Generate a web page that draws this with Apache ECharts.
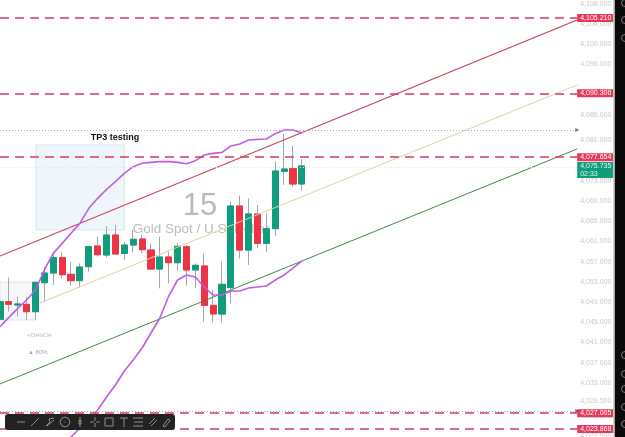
<!DOCTYPE html>
<html>
<head>
<meta charset="utf-8">
<style>html,body{margin:0;padding:0;background:#fff}#chart{width:625px;height:437px}</style>
<script src="https://cdn.jsdelivr.net/npm/echarts@6/dist/echarts.min.js"></script>
</head>
<body>
<div id="chart"></div>
<script>
// 15-minute XAU/USD candles: [open, close, low, high]
const candles = [
  [4045.57,4049.07,4044.12,4051.05],[4049.07,4048.54,4047.09,4053.89],[4048.41,4048.61,4046.10,4050.06],
  [4048.54,4047.09,4045.44,4050.06],[4047.09,4052.90,4045.44,4052.90],[4052.83,4054.74,4049.07,4056.00],
  [4054.74,4057.78,4052.37,4058.96],[4057.78,4054.41,4053.69,4058.96],[4054.48,4053.23,4052.24,4056.99],
  [4053.23,4055.93,4051.84,4056.66],[4056.00,4059.95,4055.01,4059.95],[4060.09,4058.37,4057.98,4061.93],
  [4058.31,4062.26,4057.78,4064.04],[4062.26,4058.50,4058.50,4064.24],[4058.63,4060.28,4057.32,4060.94],
  [4060.28,4061.41,4058.77,4063.25],[4061.47,4059.36,4058.63,4062.26],[4059.29,4055.53,4055.34,4060.61],
  [4055.53,4057.91,4051.71,4061.93],[4057.91,4056.79,4052.70,4058.96],[4056.79,4060.02,4055.20,4060.61],
  [4059.95,4055.34,4052.24,4060.28],[4055.34,4056.26,4051.71,4056.66],[4056.13,4048.34,4045.11,4058.63],
  [4048.34,4046.63,4044.98,4051.38],[4046.63,4052.50,4044.98,4056.99],[4051.84,4068.00,4048.74,4068.86],
  [4068.00,4059.29,4057.65,4070.05],[4059.29,4066.42,4056.33,4069.52],[4066.42,4060.61,4059.62,4068.20],
  [4060.61,4063.52,4058.96,4066.55],[4063.52,4074.93,4062.13,4076.78],[4074.86,4075.32,4072.16,4082.25],
  [4075.39,4072.36,4071.83,4079.88],[4072.36,4075.92,4071.04,4077.30]
];
const slotCount = 65;
const categories = Array.from({length: slotCount + 1}, (_, i) => String(i));

// Bollinger-style envelope, one value per candle
const upperBand = [4044.12,4045.97,4047.75,4049.40,4051.38,4055.34,4058.63,4060.61,4062.60,4064.57,4067.54,4069.52,
  4071.30,4072.82,4074.47,4075.79,4076.45,4076.64,4076.78,4076.78,4076.64,4076.38,4076.97,4078.09,4078.42,4078.62,
  4079.88,4080.27,4081.06,4081.19,4081.26,4082.32,4083.04,4083.04,4082.45];
const lowerBand = [null,null,null,null,null,null,null,4019.72,4022.29,4024.07,4025.65,4027.63,4030.20,4032.58,4035.35,
  4037.53,4039.90,4042.87,4045.84,4050.19,4053.36,4054.35,4053.95,4051.97,4050.39,4050.39,4051.18,4051.18,4051.78,
  4051.97,4052.17,4053.36,4054.35,4055.73,4057.12];

// Channel lines: [slot, price] end points
const channelUpper = [[0,4058.11],[65,4104.81]];
const channelMiddle = [[4.5,4048.81],[65,4091.95]];
const channelLower = [[0,4032.78],[65,4079.30]];

// Price levels and right-hand tags
const targetLevels = [4105.210,4090.306,4077.654,4027.005,4023.868];
const lastPrice = 4075.735;
const countdown = '02:33';
const highMarker = 4083.04;
const lowMarker = 4027.43;

const axisTicks = [4108,4104,4100,4096,4086,4081,4073,4069,4065,4061,4057,4053,4049,4045,4041,4037,4033,4029.5,4026.5,4022.5];

// Drawn zones: [slot, price] corners
const zoneUpper = [[4.05,4080.08],[14,4063.25]];
const zoneLower = [[0,4052.96],[4,4045.44]];

const UP = '#0f9d7d', DOWN = '#ee3346', WICK = '#9fa8a8', PURPLE = '#c25ce6', LEVEL = '#dc3a5c', TAG = '#e6395a';
const fmt = v => v.toLocaleString('en-US', {minimumFractionDigits: 3, maximumFractionDigits: 3});
const bodies = candles.map(c => [c[0], c[1], Math.min(c[0], c[1]), Math.max(c[0], c[1])]);
const tagFont = {fontFamily: 'Liberation Sans', fontSize: 7, color: '#fff', lineHeight: 8};

const lineSeries = (data, color, width, z) => ({
  type: 'line', xAxisIndex: 1, data, showSymbol: false, silent: true, z, animation: false,
  lineStyle: {color, width}
});

// Drawing toolbar glyphs as strokes in a 10x10 box
const toolIcons = [
  [[[1,5],[9,5]]],
  [[[1,9],[9,1]]],
  [[[1,9],[5,5],[4,2],[9,1]],[[2,9],[9,3]]],
  [[[5,0],[8.5,1.5],[10,5],[8.5,8.5],[5,10],[1.5,8.5],[0,5],[1.5,1.5],[5,0]],[[4.5,5],[5.5,5]]],
  [[[5,0],[5,10]],[[4,3],[6,3],[6,7],[4,7],[4,3]]],
  [[[5,0],[5,4]],[[5,6],[5,10]],[[0,5],[4,5]],[[6,5],[10,5]]],
  [[[1,1],[9,1],[9,9],[1,9],[1,1]]],
  [[[1,1],[9,1]],[[5,1],[5,10]]],
  [[[0,1],[10,1]],[[1,5],[10,5]],[[0,9],[10,9]]],
  [[[1,7],[7,1]],[[3,9],[9,3]]],
  [[[1,9],[6,2],[8,3.5],[3,10],[1,9]]]
];
const toolXs = [21,35,50,65,80,95,109,124,138,153,167];
const railIcons = [3,20,38,355,374,389,407,424];

const graphics = [
  {type:'text', z:-1, silent:true, style:{text:'15', x:200, y:206, align:'center', verticalAlign:'middle',
    font:'300 31px "Liberation Sans"', fill:'#b9b9b9'}},
  {type:'text', z:-1, silent:true, style:{text:'Gold Spot / U.S. Dollar', x:201, y:229, align:'center', verticalAlign:'middle',
    font:'13.5px "Liberation Sans"', fill:'#bdbdbd'}},
  {type:'text', z:20, silent:true, style:{text:'TP3 testing', x:115, y:138, align:'center', verticalAlign:'middle',
    font:'bold 9px "Liberation Sans"', fill:'#111'}},
  {type:'text', z:20, silent:true, style:{text:'+OHnCH', x:27, y:335, verticalAlign:'middle',
    font:'6px "Liberation Sans"', fill:'#b4b8c4'}},
  {type:'text', z:20, silent:true, style:{text:'▲ 80%', x:28, y:352, verticalAlign:'middle',
    font:'6px "Liberation Sans"', fill:'#a0a4b4'}},
  {type:'rect', z:30, silent:true, shape:{x:613.5, y:0, width:1.5, height:437}, style:{fill:'#a8a8a8'}},
  {type:'rect', z:30, silent:true, shape:{x:615, y:0, width:10, height:437}, style:{fill:'#0b0b0b'}},
  {type:'rect', z:30, silent:true, shape:{x:5, y:414, width:170, height:16, r:3}, style:{fill:'#222'}},
  ...railIcons.map(y => ({type:'circle', z:31, silent:true, shape:{cx:625, cy:y, r:3.5},
    style:{fill:'none', stroke:'#7c7c7c', lineWidth:1}})),
  ...toolIcons.flatMap((strokes, i) => strokes.map(pts => ({type:'polyline', z:31, silent:true,
    shape:{points:pts.map(p => [toolXs[i]-5+p[0], 417+p[1]])},
    style:{fill:'none', stroke:'#8f8f8f', lineWidth:1}})))
];

const chart = echarts.init(document.getElementById('chart'), null, {renderer:'canvas', width:625, height:437});
chart.setOption({
  animation: false,
  backgroundColor: '#fff',
  graphic: graphics,
  grid: {left: 0, right: 47.8, top: 0, bottom: 0, containLabel: false, outerBoundsMode: 'none'},
  xAxis: [
    {type:'category', data: categories, boundaryGap:false, show:false},
    {type:'value', min:0, max:slotCount, show:false}
  ],
  yAxis: {
    type:'value', position:'right', min:4022.29, max:4108.77, scale:true,
    axisLine:{show:false}, axisTick:{show:false}, splitLine:{show:false},
    axisLabel:{customValues:axisTicks, formatter:v => fmt(v), color:'#c9c9c9', fontSize:7,
      fontFamily:'Liberation Sans', margin:3, showMinLabel:true, showMaxLabel:true}
  },
  series: [
    {
      type:'line', xAxisIndex:1, data:[], z:1, silent:true,
      markArea:{silent:true, data:[
        [{coord:zoneUpper[0], itemStyle:{color:'#eef5fb', borderColor:'#d7e4ef', borderWidth:1}}, {coord:zoneUpper[1]}],
        [{coord:zoneLower[0], itemStyle:{color:'#f6f8fa', borderColor:'#d7e4ef', borderWidth:1}}, {coord:zoneLower[1]}]
      ]}
    },
    {
      type:'candlestick', data:candles, barWidth:6.6, z:2, silent:true,
      itemStyle:{color:WICK, color0:WICK, borderColor:WICK, borderColor0:WICK, borderWidth:1},
      markLine:{
        silent:true, symbol:'none', animation:false, precision:3,
        data:[
          {yAxis:highMarker, lineStyle:{color:'#a9a7bd', type:[1,2], width:1}, label:{show:false}},
          {yAxis:lowMarker, lineStyle:{color:'#a9a7bd', type:[1,2], width:1}, label:{show:false}},
          {yAxis:lastPrice, lineStyle:{color:'#d5e6df', type:[1,2], width:1},
            label:{show:true, position:'end', distance:0, offset:[0,3], formatter:fmt(lastPrice)+'\n'+countdown, align:'left',
              backgroundColor:UP, padding:[0,3], width:30, ...tagFont, color:'#e6f5f1'}},
          ...targetLevels.map(v => ({yAxis:v, lineStyle:{color:LEVEL, type:[9,6], width:1.6},
            label:{show:true, position:'end', distance:0, formatter:fmt(v), align:'left',
              backgroundColor:TAG, padding:[0,3], width:30, ...tagFont}}))
        ]
      }
    },
    {
      type:'candlestick', data:bodies, barWidth:6.6, z:2, silent:true,
      itemStyle:{color:UP, color0:DOWN, borderColor:UP, borderColor0:DOWN, borderColorDoji:UP, borderWidth:1}
    },
    lineSeries(channelUpper, '#c63f50', 1.1, 3),
    lineSeries(channelMiddle, '#dcd3a0', 1, 3),
    lineSeries(channelLower, '#3f8a45', 1, 3),
    lineSeries(upperBand.map((v,i) => [i,v]), PURPLE, 1.6, 4),
    lineSeries(lowerBand.map((v,i) => [i,v]), PURPLE, 1.6, 4),
    {
      type:'scatter', xAxisIndex:1, clip:false, silent:true, z:5, symbol:'triangle', symbolSize:4, symbolRotate:-90,
      itemStyle:{color:'#4f4aa8'}, data:[[slotCount,highMarker],[slotCount,lowMarker]]
    }
  ]
});
</script>
</body>
</html>
